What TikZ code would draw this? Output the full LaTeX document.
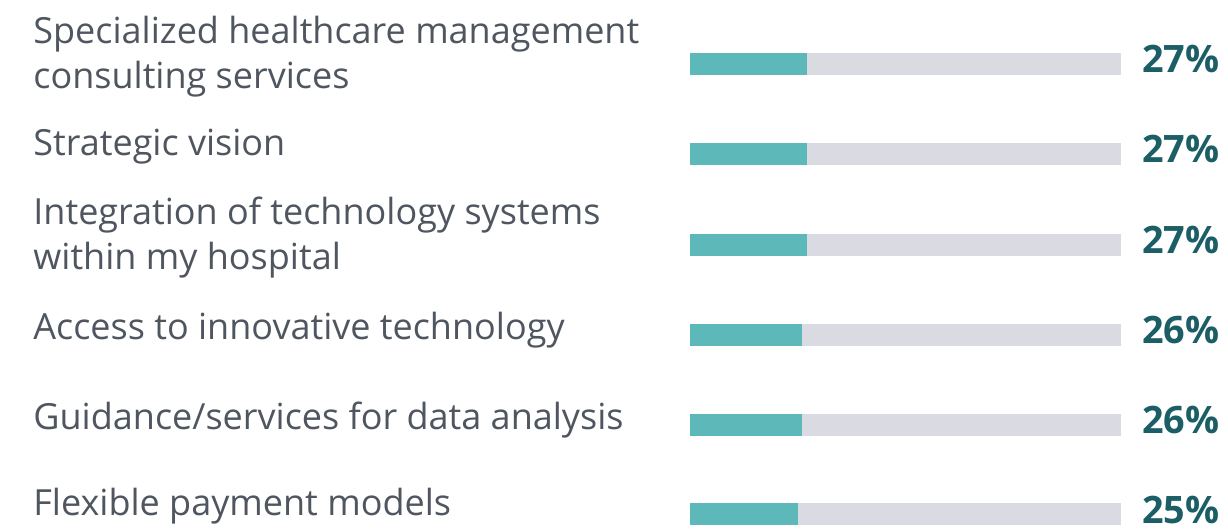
\documentclass[tikz,border=0pt]{standalone}
\usepackage{fontspec}
\setmainfont{Open Sans}
\usetikzlibrary{positioning}
\definecolor{labelgray}{HTML}{4F5660}
\definecolor{barteal}{HTML}{5CB8B9}
\definecolor{bartrack}{HTML}{DADAE3}
\definecolor{pctteal}{HTML}{1B5E66}
\tikzset{
  lbl/.style = {anchor=base west, align=left, inner sep=0pt, text=labelgray,
    font=\fontsize{18}{22.5}\selectfont},% answer text
  track/.style = {anchor=west, rectangle, inner sep=0pt, fill=bartrack,
    minimum width=215.5pt, minimum height=11pt},% grey bar
  val/.style = {anchor=west, rectangle, inner sep=0pt, fill=barteal,
    minimum height=11pt},% teal part
  pct/.style = {anchor=base west, inner sep=0pt, text=pctteal,
    font=\bfseries\fontsize{18.9}{20}\selectfont}% share
}

\begin{document}
\begin{tikzpicture}[x=0.5pt,y=-0.5pt]
        \useasboundingbox (0,0) rectangle (1228,530);
        % labels (base = last line)
        \node [lbl] (L1) at (33,88) {Specialized healthcare management\\consulting services};
        \node [lbl] (L2) at (33,155) {Strategic vision};
        \node [lbl] (L3) at (33,269) {Integration of technology systems\\within my hospital};
        \node [lbl] (L4) at (33,339) {Access to innovative technology};
        \node [lbl] (L5) at (33,429) {Guidance/services for data analysis};
        \node [lbl] (L6) at (33,515) {Flexible payment models};
        % bars
        \node [track] (T1) at (690,64) {};
        \node [val, minimum width=58.5pt] (V1) at (T1.west) {};
        \node [track] (T2) at (690,154) {};
        \node [val, minimum width=58.5pt] (V2) at (T2.west) {};
        \node [track] (T3) at (690,245) {};
        \node [val, minimum width=58.5pt] (V3) at (T3.west) {};
        \node [track] (T4) at (690,335) {};
        \node [val, minimum width=56pt] (V4) at (T4.west) {};
        \node [track] (T5) at (690,424.5) {};
        \node [val, minimum width=56pt] (V5) at (T5.west) {};
        \node [track] (T6) at (690,514) {};
        \node [val, minimum width=54pt] (V6) at (T6.west) {};
        % values
        \node [pct] (P1) at (1142,72) {27\%};
        \node [pct] (P2) at (1142,162) {27\%};
        \node [pct] (P3) at (1142,253) {27\%};
        \node [pct] (P4) at (1142,343) {26\%};
        \node [pct] (P5) at (1142,433) {26\%};
        \node [pct] (P6) at (1142,523) {25\%};
\end{tikzpicture}
\end{document}
